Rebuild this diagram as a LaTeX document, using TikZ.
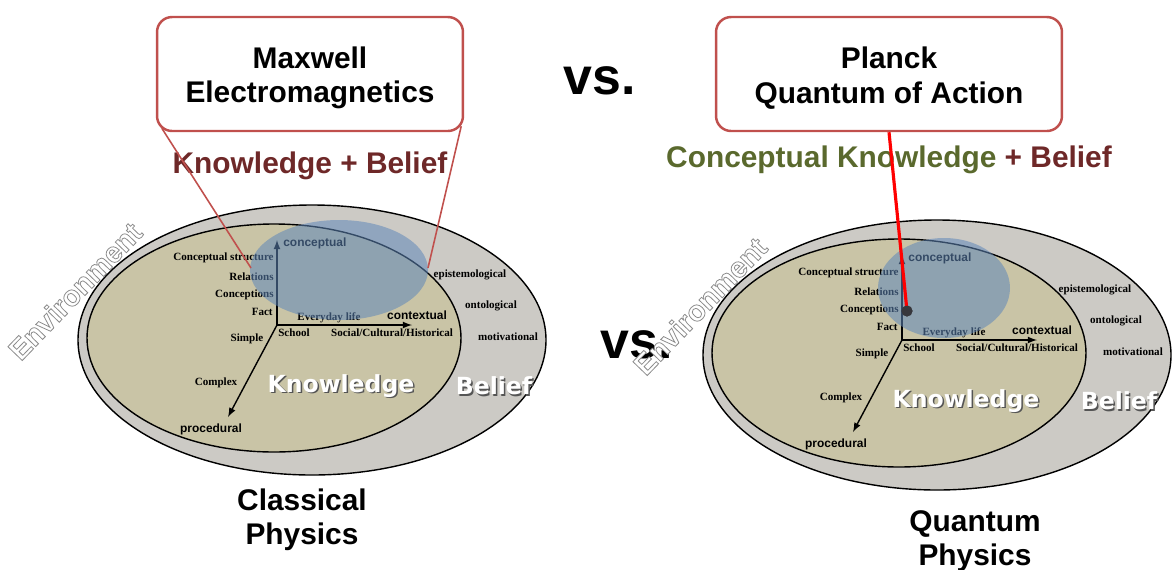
\documentclass[tikz,border=0pt]{standalone}
\usepackage{fontspec}
\setmainfont{Liberation Sans}
\newfontfamily\serifbold{Liberation Serif}
\newfontfamily\wideface{DejaVu Sans}
\usetikzlibrary{arrows, calc}
\definecolor{boxred}{RGB}{192,80,77}
\definecolor{beliefgray}{RGB}{204,202,197}
\definecolor{knowtan}{RGB}{201,196,166}
\definecolor{conceptblue}{RGB}{95,135,185}
\definecolor{beliefred}{RGB}{110,40,40}
\definecolor{knowolive}{RGB}{90,105,45}
\definecolor{shadowgray}{RGB}{85,85,85}
\definecolor{dotgray}{RGB}{55,55,60}
% WHITE TEXT WITH A GREY OUTLINE (PDF TEXT RENDER MODE 2)
\newcommand\outlinedtext[1]{%
    \special{pdf:literal direct 2 Tr 0.45 w 0.55 0.55 0.55 RG}#1\special{pdf:literal direct 0 Tr}}
\tikzset{
    my-title-box/.style={
        draw=boxred, line width=1.4pt, fill=white, rounded corners=0.3cm,
        minimum height=2.28cm, align=center, font=\fontsize{17}{19.5}\selectfont\bfseries
    },
    my-heading/.style={
        font=\fontsize{17}{19.5}\selectfont\bfseries, align=center, inner sep=0pt
    },
    my-vs/.style={
        font=\fontsize{29.5}{32}\selectfont\bfseries, inner sep=0pt
    },
    my-axis-label/.style={
        font=\fontsize{6.3}{7}\selectfont\serifbold\bfseries, inner sep=0pt
    },
    my-axis-name/.style={
        font=\fontsize{6.8}{8}\selectfont\bfseries, inner sep=0pt
    },
    my-region-name/.style={
        font=\fontsize{13.4}{15}\selectfont\wideface\bfseries, inner sep=0pt
    },
    my-env-text/.style={
        font=\fontsize{16.5}{18}\selectfont\bfseries, rotate=46, inner sep=0pt, text=white
    },
    my-axis/.style={
        -latex, line width=0.8pt
    },
    my-branch/.style={
        fill=dotgray, shape=circle, minimum size=0.22cm, inner sep=0pt
    },
}

\begin{document}
\begin{tikzpicture}[x=0.02cm, y=-0.02cm]

        \useasboundingbox (0,0) rectangle (1173,569);

        % VS. ------------------------------------------------------------------------------------------
        \node[my-vs] (VSTOP) at (600, 80.5) {vs.};
        \node[my-vs] (VSMID) at (637, 345)  {vs.};

        % KNOWLEDGE / BELIEF MAPS (L = CLASSICAL, R = QUANTUM) -----------------------------------------
        \foreach \S/\X/\Y in {L/0/0, R/625/15} {

            % ORIGIN OF THE THREE AXES
            \coordinate (ORIGIN\S) at (277+\X, 325+\Y);

            % BELIEF AND KNOWLEDGE ELLIPSES
            \draw[fill=beliefgray, line width=0.8pt] ($(ORIGIN\S) + (35, 15)$) ellipse [x radius=234, y radius=135];
            \draw[fill=knowtan, line width=0.8pt]    ($(ORIGIN\S) + (-3, 13)$) ellipse [x radius=187, y radius=114];

            % ENVIRONMENT (OUTLINED TEXT)
            \node[my-env-text] (ENV\S) at ($(ORIGIN\S) + (-202, -34)$) {\outlinedtext{Environment}};

            % AXES
            \coordinate (UP\S)    at ($(ORIGIN\S) + (0, -85)$);
            \coordinate (RIGHT\S) at ($(ORIGIN\S) + (135, 0)$);
            \coordinate (DOWN\S)  at ($(ORIGIN\S) + (-49, 92)$);
            \draw[my-axis] (ORIGIN\S) -- (UP\S);
            \draw[my-axis] (ORIGIN\S) -- (RIGHT\S);
            \draw[my-axis] (ORIGIN\S) -- (DOWN\S);

            % AXIS NAMES
            \node[my-axis-name, anchor=west] (CONCEPTUAL\S) at ($(ORIGIN\S) + (6, -82)$)   {conceptual};
            \node[my-axis-name]              (CONTEXTUAL\S) at ($(ORIGIN\S) + (140, -10)$) {contextual};
            \node[my-axis-name]              (PROCEDURAL\S) at ($(ORIGIN\S) + (-66, 104)$) {procedural};

            % CONCEPTUAL AXIS LABELS
            \node[my-axis-label, anchor=east] (CSTRUCT\S) at ($(ORIGIN\S) + (-3, -67)$) {Conceptual structure};
            \node[my-axis-label, anchor=east] (RELAT\S)   at ($(ORIGIN\S) + (-3, -48)$) {Relations};
            \node[my-axis-label, anchor=east] (CONCEP\S)  at ($(ORIGIN\S) + (-3, -30)$) {Conceptions};
            \node[my-axis-label, anchor=east] (FACT\S)    at ($(ORIGIN\S) + (-4, -13)$) {Fact};

            % CONTEXTUAL AXIS LABELS
            \node[my-axis-label] (EVERYDAY\S) at ($(ORIGIN\S) + (52, -7)$)  {Everyday life};
            \node[my-axis-label] (SCHOOL\S)   at ($(ORIGIN\S) + (17, 8)$)   {School};
            \node[my-axis-label] (SOCIAL\S)   at ($(ORIGIN\S) + (115, 8)$)  {Social/Cultural/Historical};

            % PROCEDURAL AXIS LABELS
            \node[my-axis-label] (SIMPLE\S)  at ($(ORIGIN\S) + (-30, 14)$) {Simple};
            \node[my-axis-label] (COMPLEX\S) at ($(ORIGIN\S) + (-61, 58)$) {Complex};

            % BELIEF LABELS
            \node[my-axis-label] (EPIST\S) at ($(ORIGIN\S) + (193, -50)$) {epistemological};
            \node[my-axis-label] (ONTOL\S) at ($(ORIGIN\S) + (214, -19)$) {ontological};
            \node[my-axis-label] (MOTIV\S) at ($(ORIGIN\S) + (231, 12)$)  {motivational};

            % REGION NAMES WITH SHADOW
            \node[my-region-name, text=shadowgray] (KNOWSHADOW\S)   at ($(ORIGIN\S) + (65.5, 62.5)$)  {Knowledge};
            \node[my-region-name, text=white]      (KNOWLEDGE\S)    at ($(ORIGIN\S) + (64, 61)$)      {Knowledge};
            \node[my-region-name, text=shadowgray] (BELIEFSHADOW\S) at ($(ORIGIN\S) + (218.5, 62.5)$) {Belief};
            \node[my-region-name, text=white]      (BELIEF\S)       at ($(ORIGIN\S) + (217, 61)$)     {Belief};
        }

        % CONCEPTUAL FOCUS (TRANSPARENT BLUE)
        \fill[conceptblue, opacity=0.55] (339, 270) ellipse [x radius=89, y radius=50];
        \fill[conceptblue, opacity=0.55] (944, 288) ellipse [x radius=66, y radius=50];

        % CLASSICAL SIDE --------------------------------------------------------------------------------
        \node[my-title-box, minimum width=6.12cm] (MAXWELL) at (310, 74) {\rule{0pt}{0.6cm}Maxwell\\Electromagnetics};
        \node[my-heading, text=beliefred] (MAXWELLSUB) at (310, 165.5) {Knowledge + Belief};
        \node[my-heading] (CLASSICAL) at (302, 520) {Classical\\Physics};

        % LINES FROM BOX TO CONCEPTUAL FOCUS
        \coordinate (MAXWELLTGT1) at (251, 268);
        \coordinate (MAXWELLTGT2) at (428, 268);
        \draw[boxred, line width=0.9pt] ($(MAXWELL.south west) + (6, -4)$)  -- (MAXWELLTGT1);
        \draw[boxred, line width=0.9pt] ($(MAXWELL.south east) + (-3, -6)$) -- (MAXWELLTGT2);

        % QUANTUM SIDE ----------------------------------------------------------------------------------
        \node[my-title-box, minimum width=6.92cm] (PLANCK) at (889, 74) {\rule{0pt}{0.6cm}Planck\\Quantum of Action};
        \node[my-heading] (PLANCKSUB) at (889, 160) {\textcolor{knowolive}{Conceptual Knowledge} \textcolor{beliefred}{+ Belief}};
        \node[my-heading] (QUANTUM) at (975, 541) {Quantum\\Physics};

        % POINTER FROM BOX TO CONCEPTIONS
        \node[my-branch] (PLANCKDOT) at (907, 311) {};
        \draw[red, line width=1.8pt] (PLANCK.south) -- (PLANCKDOT.center);
        \node[my-branch] (PLANCKDOTTOP) at (PLANCKDOT) {};

\end{tikzpicture}
\end{document}
